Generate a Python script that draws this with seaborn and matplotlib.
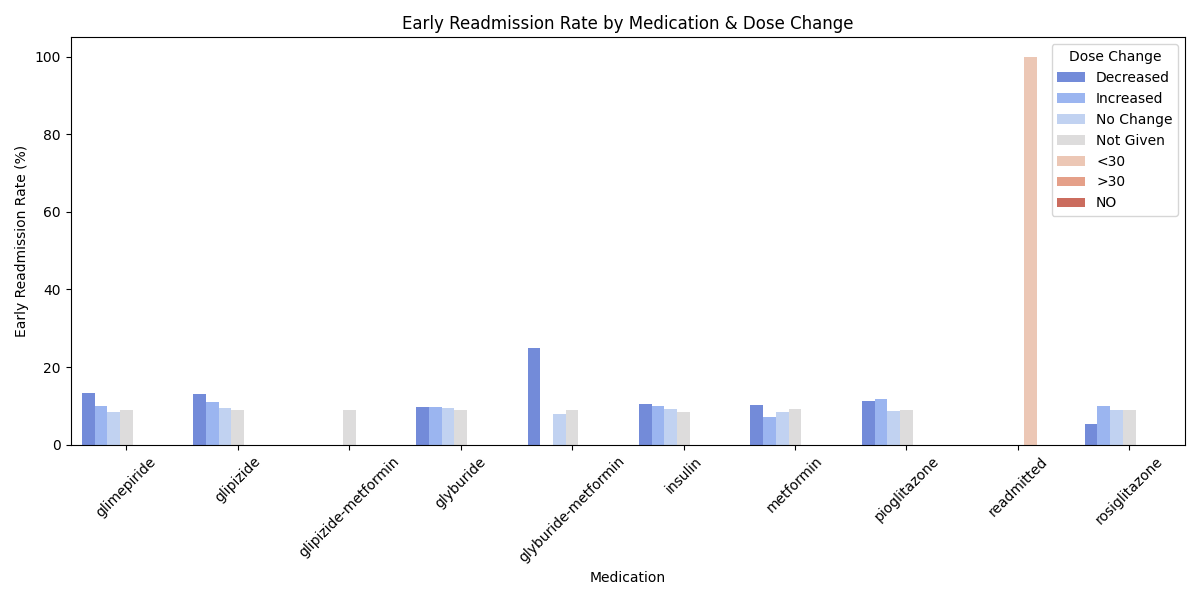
import matplotlib
matplotlib.use("Agg")
import matplotlib.pyplot as plt
import seaborn as sns
import pandas as pd

medications = ["glimepiride", "glipizide", "glipizide-metformin", "glyburide",
               "glyburide-metformin", "insulin", "metformin", "pioglitazone",
               "readmitted", "rosiglitazone"]
hue_levels = ["Decreased", "Increased", "No Change", "Not Given", "<30", ">30", "NO"]

decreased = [13.3, 13.0, None, 9.7, 25.0, 10.5, 10.2, 11.2, None, 5.3]
increased = [10.0, 11.0, None, 9.7, None, 10.0, 7.0, 11.7, None, 10.0]
no_change = [8.5, 9.5, None, 9.5, 8.0, 9.3, 8.5, 8.7, None, 9.0]
not_given = [9.0, 9.0, 9.0, 9.0, 9.0, 8.5, 9.3, 9.0, None, 9.0]
lt30 = [None, None, None, None, None, None, None, None, 100.0, None]

rows = []
for series, name in [(decreased, "Decreased"), (increased, "Increased"),
                     (no_change, "No Change"), (not_given, "Not Given"), (lt30, "<30")]:
    for m, v in zip(medications, series):
        if v is not None:
            rows.append({"Medication": m, "Dose Change": name, "rate": v})
df = pd.DataFrame(rows)

fig, ax = plt.subplots(figsize=(12, 6), dpi=100)
sns.barplot(data=df, x="Medication", y="rate", hue="Dose Change",
            order=medications, hue_order=hue_levels, palette="coolwarm", ax=ax)
ax.set_title("Early Readmission Rate by Medication & Dose Change")
ax.set_ylabel("Early Readmission Rate (%)")
ax.set_xlabel("Medication")
plt.xticks(rotation=45)
ax.legend(title="Dose Change", loc="upper right")
plt.tight_layout()
plt.savefig("out.png")
